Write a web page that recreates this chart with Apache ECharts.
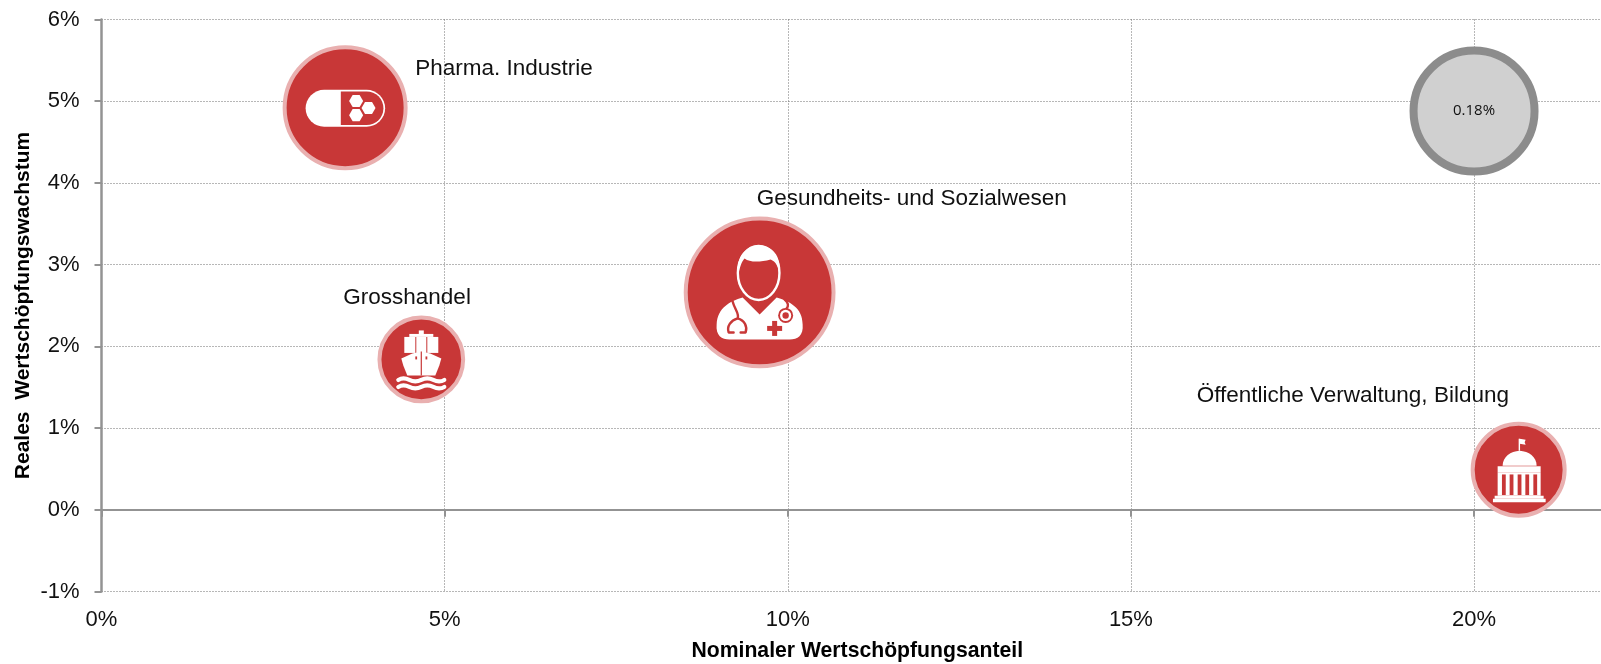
<!DOCTYPE html>
<html><head><meta charset="utf-8">
<style>html,body{margin:0;padding:0;background:#fff}#c{width:1601px;height:664px}</style>
<script src="https://cdn.jsdelivr.net/npm/echarts@6/dist/echarts.min.js"></script>
</head><body><div id="c"></div>
<script>
const sectors=['Pharma. Industrie','Gesundheits- und Sozialwesen','Grosshandel','Öffentliche Verwaltung, Bildung'];
const icons=['pill','doctor','ship','gov'];
const shareX=[3.55,9.59,4.66,20.65];
const growthY=[4.92,2.66,1.84,0.49];
const bubbleVal=[0.18,0.2686,0.0861,0.104];
const refX=[20],refY=[4.88],refVal=[0.18],refLabel=['0.18%'];
const xTicks=[0,5,10,15,20];
const yTicks=[-1,0,1,2,3,4,5,6];
const xTitle='Nominaler Wertschöpfungsanteil';
const yTitle='Reales  Wertschöpfungswachstum';

const labelOffset={'Pharma. Industrie':[70,-39],'Gesundheits- und Sozialwesen':[-3,-94],'Grosshandel':[-78,-62],'Öffentliche Verwaltung, Bildung':[-322,-74]};
const sizeOf=v=>Math.sqrt(v/0.18)*121;
const RED='#C83737',W='#fff';
const TF='"Liberation Sans"';

function poly(points,fill){return {type:'polygon',shape:{points},style:{fill:fill||W}};}
function rect(x,y,w,h,fill,r){return {type:'rect',shape:{x,y,width:w,height:h,r:r||0},style:{fill:fill||W}};}
function hex(cx,cy,r,fill){const p=[];for(let i=0;i<6;i++){const a=i*Math.PI/3;p.push([cx+r*Math.cos(a),cy+r*Math.sin(a)]);}return poly(p,fill);}
function circ(cx,cy,r,fill){return {type:'circle',shape:{cx,cy,r},style:{fill:fill||W}};}
function stroke(d,w,col){return {type:'path',shape:{pathData:d,layout:'none'},style:{fill:'none',stroke:col||W,lineWidth:w,lineCap:'round',lineJoin:'round'}};}
function fillp(d,col){return {type:'path',shape:{pathData:d},style:{fill:col||W}};}

function iconChildren(name){
 if(name==='pill') return [
  rect(-39.5,-18,79.5,37,W,18.5),
  rect(-4.3,-16.3,42.6,33.6,RED,[0,16.8,16.8,0]),
  hex(11,-6.8,7),hex(11,7.4,7),hex(23.4,0.3,7)];
 if(name==='doctor') return [
  fillp('M-17,5 L0,22 L17,5 C30,9 43,15 43,32 C44,43 38,47 30,47 L-30,47 C-38,47 -44,43 -43,32 C-42,15 -30,9 -17,5 Z',W),
  stroke('M-27,9 C-25,17 -20,21 -22,26 C-29,28 -33,34 -31,40 L-26,40',2.4,RED),
  stroke('M-22,26 C-15,28 -12,34 -14,40 L-19,40',2.4,RED),
  stroke('M25,7 C29,10 29,14 27,16',2.4,RED),
  circ(26,23,7.5,RED),circ(26,23,5.6,W),circ(26,23,3.2,RED),
  rect(12.5,28.5,5,15,RED),rect(7.5,33.5,15,5,RED),
  {type:'ellipse',shape:{cx:-1,cy:-19.5,rx:20.8,ry:27},style:{fill:RED,stroke:W,lineWidth:2.4}},
  fillp('M-21.5,-17 C-24,-38 -12,-47 -1,-47 C12,-47 22,-38 20,-17 C19,-26 16,-31 11,-33 C0,-30 -10,-30 -15,-34 C-18,-31 -20,-25 -21.5,-17 Z',W)
 ];
 if(name==='ship') return [
  rect(-2.5,-29,5,5),rect(-12,-25.5,24,3),
  rect(-17,-22.5,11,16),rect(-5,-22.5,10,16),rect(6,-22.5,11,16),
  fillp('M-20,-1 L-9,-6 L0,-8 L9,-6 L20,-1 L18,6 L14,16 L-14,16 L-18,6 Z',W),
  rect(-0.6,-8,1.2,24,RED),
  rect(-6,-3,1.8,3,RED),rect(4.2,-3,1.8,3,RED),
  stroke('M-23,20.5 Q-18,17.5 -12,20.5 T0,20.5 T12,20.5 T23,20.5',4.2,W),
  stroke('M-23,27.5 Q-18,24.5 -12,27.5 T0,27.5 T12,27.5 T23,27.5',4.2,W)
 ];
 if(name==='gov') return [
  rect(0,-31,1.4,12),poly([[1,-31],[7,-30],[6,-27.5],[7,-25],[1,-26]]),
  fillp('M-16,-4 C-16,-13 -8,-18.5 1,-19 C10,-18.5 18,-13 18,-4 Z',W),
  rect(-21,-3.5,43,6.5),rect(-21,3,43,23),
  rect(-16.7,4.7,3.8,20.6,RED),rect(-9,4.7,3.8,20.6,RED),rect(-1,4.7,3.8,20.6,RED),rect(6.7,4.7,3.8,20.6,RED),rect(14.7,4.7,3.8,20.6,RED),
  rect(-24,26,49,3),rect(-25.7,29,52.7,3.4)
 ];
 return [];
}

const chart=echarts.init(document.getElementById('c'),null,{renderer:'canvas'});
const axisGrey='#939393';
const gridLine={lineStyle:{color:'#6e6e6e',type:[1,2],width:1}};
const pts=sectors.map((s,i)=>[shareX[i],growthY[i],bubbleVal[i],s,icons[i]]);
chart.setOption({
 animation:false,backgroundColor:'#fff',
 grid:{left:101.5,right:0,top:19.5,bottom:72.5,containLabel:false,outerBoundsMode:'none'},
 xAxis:[{
  type:'value',min:0,max:21.85,interval:5,position:'bottom',
  axisLine:{show:false,onZero:false},axisTick:{show:false},
  splitLine:Object.assign({show:true,showMinLine:false,showMaxLine:false},gridLine),
  axisLabel:{color:'#111',fontFamily:TF,fontSize:22,margin:17,showMaxLabel:false,formatter:v=>v+'%'},
  name:xTitle,nameLocation:'middle',nameGap:49,nameMoveOverlap:false,
  nameTextStyle:{color:'#000',fontFamily:TF,fontSize:21.2,fontWeight:'bold',padding:[0,0,0,12]}
 },{
  type:'value',min:0,max:21.85,interval:5,position:'bottom',
  axisLine:{show:true,onZero:true,lineStyle:{color:axisGrey,width:2}},
  axisTick:{show:true,inside:false,length:7,customValues:xTicks,lineStyle:{color:axisGrey,width:2}},
  splitLine:{show:false},axisLabel:{show:false}
 }],
 yAxis:{
  type:'value',min:yTicks[0],max:yTicks[yTicks.length-1],interval:1,
  axisLine:{show:true,onZero:false,lineStyle:{color:axisGrey,width:2.5}},
  axisTick:{show:true,length:7,lineStyle:{color:axisGrey,width:2}},
  splitLine:Object.assign({show:true},gridLine),
  axisLabel:{color:'#111',fontFamily:TF,fontSize:22,margin:22,formatter:v=>v+'%'},
  name:yTitle,nameLocation:'middle',nameGap:68,nameRotate:90,nameMoveOverlap:false,
  nameTextStyle:{color:'#000',fontFamily:TF,fontSize:21,fontWeight:'bold'}
 },
 series:[{
  type:'scatter',name:'Sektoren',
  data:pts,symbolSize:d=>sizeOf(d[2]),
  itemStyle:{color:RED,opacity:1,borderColor:'#E9B0B0',borderWidth:4},
  label:{show:false},z:3
 },{
  type:'scatter',name:'Referenz',
  data:refX.map((x,i)=>[x,refY[i],refVal[i],refLabel[i]]),symbolSize:d=>sizeOf(d[2]),
  itemStyle:{color:'#D0D0D0',opacity:1,borderColor:'#8C8C8C',borderWidth:8},
  label:{show:true,position:'inside',formatter:p=>p.value[3],color:'#111',fontFamily:'"Open Sans"',fontSize:15},z:3
 },{
  type:'custom',name:'Icons',coordinateSystem:'cartesian2d',z:5,
  data:pts,encode:{x:0,y:1},
  renderItem(params,api){
   const [cx,cy]=api.coord([api.value(0),api.value(1)]);
   const d=pts[params.dataIndex];
   const off=labelOffset[d[3]];
   return {type:'group',children:[
    {type:'group',x:cx,y:cy,children:iconChildren(d[4])},
    {type:'text',x:cx+off[0],y:cy+off[1],style:{text:d[3],fill:'#111',font:'22.5px "Liberation Sans"',textVerticalAlign:'middle'}}
   ]};
  }
 }]
});
</script>
</body></html>
